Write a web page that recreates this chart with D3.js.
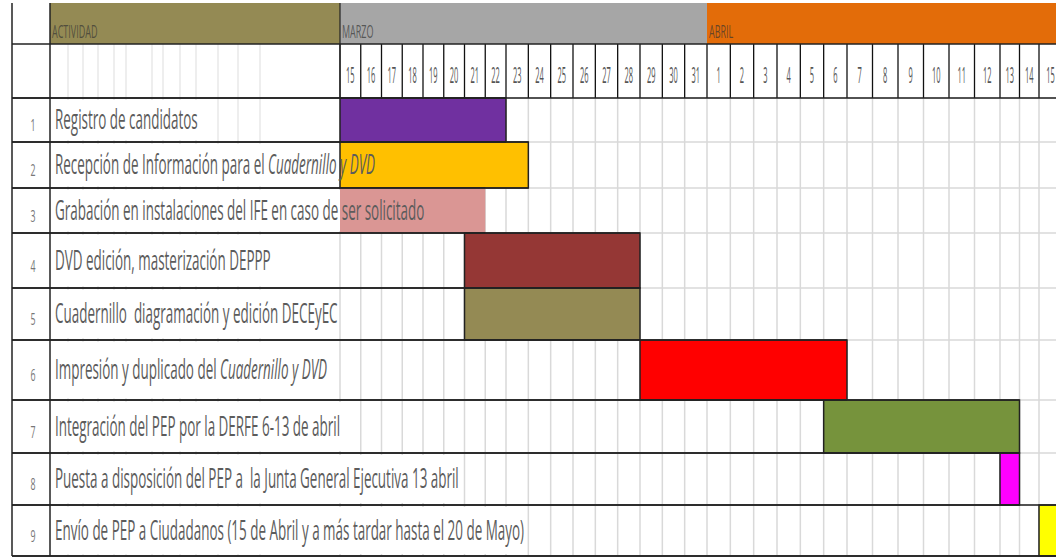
<!DOCTYPE html>
<html>
<head>
<meta charset="utf-8">
<script src="https://cdn.jsdelivr.net/npm/d3@7"></script>
<style>
  body { margin: 0; background: #fff; }
  svg { display: block; }
  text { font-family: "Open Sans", sans-serif; white-space: pre; }
</style>
</head>
<body>
<div id="chart"></div>
<script>
// activities, the italic tail is kept apart
var tasks = ["Registro de candidatos",
             "Recepción de Información para el ",
             "Grabación en instalaciones del IFE en caso de ser solicitado",
             "DVD edición, masterización DEPPP",
             "Cuadernillo  diagramación y edición DECEyEC",
             "Impresión y duplicado del ",
             "Integración del PEP por la DERFE 6-13 de abril",
             "Puesta a disposición del PEP a  la Junta General Ejecutiva 13 abril",
             "Envío de PEP a Ciudadanos (15 de Abril y a más tardar hasta el 20 de Mayo)"];
var italics = ["", "Cuadernillo y DVD", "", "", "", "Cuadernillo y DVD", "", "", ""];
var starts = ["2012-03-15", "2012-03-15", "2012-03-15", "2012-03-21", "2012-03-21",
              "2012-03-29", "2012-04-06", "2012-04-13", "2012-04-15"];
var ends = ["2012-03-22", "2012-03-23", "2012-03-21", "2012-03-28", "2012-03-28",
            "2012-04-06", "2012-04-13", "2012-04-13", "2012-05-20"];
var colors = ["#7030a0", "#ffc000", "#da9694", "#953735", "#948a54",
              "#ff0000", "#76933c", "#ff00ff", "#ffff00"];
var headers = ["ACTIVIDAD", "MARZO", "ABRIL"];
var headerColors = ["#948a54", "#a6a6a6", "#e36c09"];

// layout
var W = 1056, H = 560;
var left = 12, numR = 50;
var top1 = 3, top2 = 44, top3 = 98;
var rowH = [44, 46, 45, 55, 52, 60, 53, 52, 51];
var rowY = [top3];
rowH.forEach(function(h) { rowY.push(rowY[rowY.length - 1] + h); });
var bottom = rowY[rowY.length - 1];
// leftover spreadsheet grid inside the activity column
var subCols = [68, 83, 98, 114, 126, 152, 163, 180, 196, 218, 238, 260];
var sx = 0.48;  // squeezed text

var parse = d3.utcParse("%Y-%m-%d");
var day0 = parse("2012-03-15"), apr1 = parse("2012-04-01"), apr16 = parse("2012-04-16");
var days = d3.utcDay.range(day0, apr16);

// the sheet columns are not all the same width, so the scale is piecewise
var x = d3.scaleUtc()
    .domain(["2012-03-15", "2012-03-23", "2012-04-01", "2012-04-07",
             "2012-04-13", "2012-04-15", "2012-04-16"].map(parse))
    .range([340, 506, 707, 847, 1000, 1039, 1062]);

var svg = d3.select("#chart")
  .append("svg")
    .attr("width", W)
    .attr("height", H);

var gridLayer = svg.append("g");
var bgLayer = svg.append("g");
var barLayer = svg.append("g");
var lineLayer = svg.append("g");
var textLayer = svg.append("g");

// header row 1
var hb = [numR, x(day0), x(apr1), W];
gridLayer.selectAll(".hdr")
    .data(headers)
  .enter()
    .append("rect")
    .attr("x", function(d, i) { return hb[i]; })
    .attr("y", top1)
    .attr("width", function(d, i) { return hb[i + 1] - hb[i]; })
    .attr("height", top2 - top1)
    .attr("fill", function(d, i) { return headerColors[i]; });

textLayer.selectAll(".hdrtxt")
    .data(headers)
  .enter()
    .append("text")
    .attr("transform", function(d, i) { return "translate(" + (hb[i] + 2) + "," + 38 + ") scale(0.5,1)"; })
    .attr("font-size", 18)
    .attr("fill", "#333")
    .attr("fill-opacity", 0.7)
    .text(function(d) { return d; });

// light grid of the body
gridLayer.selectAll(".vgrid")
    .data(days.concat([apr16]))
  .enter()
    .append("line")
    .attr("x1", function(d) { return x(d); })
    .attr("x2", function(d) { return x(d); })
    .attr("y1", top3)
    .attr("y2", bottom)
    .attr("stroke", "#d9d9d9")
    .attr("stroke-width", 1.5);

gridLayer.selectAll(".subgrid")
    .data(subCols)
  .enter()
    .append("line")
    .attr("x1", function(d) { return d; })
    .attr("x2", function(d) { return d; })
    .attr("y1", top2)
    .attr("y2", bottom)
    .attr("stroke", "#e3e3e3")
    .attr("stroke-width", 1.2);

gridLayer.selectAll(".hgrid")
    .data(rowY)
  .enter()
    .append("line")
    .attr("x1", left)
    .attr("x2", W)
    .attr("y1", function(d) { return d; })
    .attr("y2", function(d) { return d; })
    .attr("stroke", "#d9d9d9")
    .attr("stroke-width", 1.5);

// day labels and their black cell borders
lineLayer.selectAll(".dayline")
    .data(days.concat([apr16]))
  .enter()
    .append("line")
    .attr("x1", function(d) { return x(d); })
    .attr("x2", function(d) { return x(d); })
    .attr("y1", top2)
    .attr("y2", top3)
    .attr("stroke", "#111")
    .attr("stroke-width", 1.3);

textLayer.selectAll(".daytxt")
    .data(days)
  .enter()
    .append("text")
    .attr("transform", function(d) {
      var cx = (x(d) + x(d3.utcDay.offset(d, 1))) / 2;
      return "translate(" + cx + ",83) scale(0.34,1)";
    })
    .attr("text-anchor", "middle")
    .attr("font-size", 22)
    .attr("fill", "#555")
    .text(function(d) { return d.getUTCDate(); });

// activity labels
var labels = textLayer.selectAll(".task")
    .data(tasks)
  .enter()
    .append("text")
    .attr("transform", function(d, i) {
      return "translate(55," + ((rowY[i] + rowY[i + 1]) / 2 + 9) + ") scale(" + sx + ",1)";
    })
    .attr("font-size", 28)
    .attr("fill", "#5c5c5c");
labels.append("tspan").text(function(d) { return d; });
labels.append("tspan")
    .attr("font-style", "italic")
    .text(function(d, i) { return italics[i]; });

// white behind each label so the sheet grid is hidden under the text
labels.each(function(d, i) {
  var w = this.getComputedTextLength() * sx;
  bgLayer.append("rect")
    .attr("x", 52)
    .attr("y", rowY[i] + 2)
    .attr("width", w + 4)
    .attr("height", rowH[i] - 4)
    .attr("fill", "#fff");
});

textLayer.selectAll(".num")
    .data(tasks)
  .enter()
    .append("text")
    .attr("transform", function(d, i) {
      return "translate(33," + ((rowY[i] + rowY[i + 1]) / 2 + 11) + ") scale(0.55,1)";
    })
    .attr("text-anchor", "middle")
    .attr("font-size", 16)
    .attr("fill", "#777")
    .text(function(d, i) { return i + 1; });

// bars
barLayer.selectAll(".bar")
    .data(tasks)
  .enter()
    .append("rect")
    .attr("x", function(d, i) { return x(parse(starts[i])); })
    .attr("y", function(d, i) { return rowY[i]; })
    .attr("width", function(d, i) {
      return x(d3.utcDay.offset(parse(ends[i]), 1)) - x(parse(starts[i]));
    })
    .attr("height", function(d, i) { return rowH[i]; })
    .attr("fill", function(d, i) { return colors[i]; })
    .attr("stroke", function(d, i) { return i === 2 ? "none" : "#222"; })
    .attr("stroke-width", 1.5);

// black row borders run from the left edge to the end of each bar
tasks.forEach(function(d, i) {
  var xe = Math.min(W, x(d3.utcDay.offset(parse(ends[i]), 1)));
  [rowY[i], rowY[i + 1]].forEach(function(yy) {
    lineLayer.append("line")
      .attr("x1", left).attr("x2", xe)
      .attr("y1", yy).attr("y2", yy)
      .attr("stroke", "#222")
      .attr("stroke-width", 1.5);
  });
});

// frame lines
[top2, top3, bottom].forEach(function(yy) {
  lineLayer.append("line")
    .attr("x1", left).attr("x2", W)
    .attr("y1", yy).attr("y2", yy)
    .attr("stroke", "#222")
    .attr("stroke-width", 1.5);
});
[left, numR].forEach(function(xx) {
  lineLayer.append("line")
    .attr("x1", xx).attr("x2", xx)
    .attr("y1", top1).attr("y2", bottom)
    .attr("stroke", "#222")
    .attr("stroke-width", 1.5);
});
lineLayer.append("line")
  .attr("x1", x(day0)).attr("x2", x(day0))
  .attr("y1", top1).attr("y2", top3)
  .attr("stroke", "#222")
  .attr("stroke-width", 1.2);
</script>
</body>
</html>
